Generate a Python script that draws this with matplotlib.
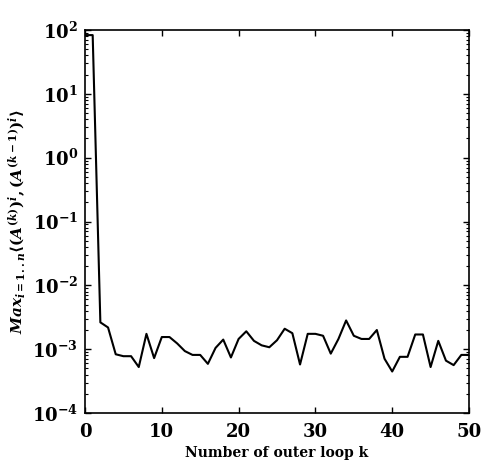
import numpy as np
import matplotlib
matplotlib.use("Agg")
import matplotlib.pyplot as plt
from matplotlib.ticker import FixedLocator, NullFormatter, LogFormatterSciNotation

plt.rcParams.update({
    "font.family": "DejaVu Serif",
    "font.weight": "bold",
    "mathtext.fontset": "custom",
    "mathtext.rm": "DejaVu Serif:bold",
    "mathtext.it": "DejaVu Serif:italic:bold",
    "mathtext.bf": "DejaVu Serif:bold",
})

k = list(range(0, 51))
log_values = [1.92, 1.92, -2.58, -2.66, -3.08, -3.11, -3.11, -3.28, -2.76, -3.14,
              -2.81, -2.81, -2.91, -3.03, -3.09, -3.09, -3.23, -2.98, -2.85, -3.13,
              -2.84, -2.72, -2.87, -2.94, -2.97, -2.86, -2.68, -2.75, -3.24, -2.76,
              -2.76, -2.79, -3.07, -2.84, -2.55, -2.79, -2.84, -2.84, -2.70, -3.15,
              -3.35, -3.12, -3.12, -2.77, -2.77, -3.28, -2.87, -3.18, -3.25, -3.09,
              -3.09]
values = [10 ** v for v in log_values]
x_ticks = [0, 10, 20, 30, 40, 50]
y_exponents = [-4, -3, -2, -1, 0, 1, 2]

y_major = [10.0 ** e for e in y_exponents]
y_minor = [m * 10.0 ** e for e in y_exponents[:-1] for m in range(2, 10)]

fig = plt.figure(figsize=(4.84, 4.68), dpi=100)
ax = fig.add_axes([85 / 484, 1 - 413 / 468, 384 / 484, 383 / 468])
ax.plot(k, values, color="black", linewidth=1.5)
ax.set_yscale("log")
ax.set_xlim(0, 50)
ax.set_ylim(1e-4, 1e2)
ax.xaxis.set_major_locator(FixedLocator(x_ticks))
ax.yaxis.set_major_locator(FixedLocator(y_major))
ax.yaxis.set_major_formatter(LogFormatterSciNotation())
ax.yaxis.set_minor_locator(FixedLocator(y_minor))
ax.yaxis.set_minor_formatter(NullFormatter())
ax.tick_params(which="both", direction="in", top=True, right=True)
ax.tick_params(which="major", length=4, width=1, labelsize=13)
ax.tick_params(axis="x", which="major", pad=7)
ax.tick_params(axis="y", which="major", pad=5)
ax.tick_params(which="minor", length=2, width=0.8)
for s in ax.spines.values():
    s.set_linewidth(1.2)
ax.set_xlabel("Number of outer loop k", fontsize=10, fontweight="bold", labelpad=4)
ax.set_ylabel(r"$Max_{i=1..n}\langle(A^{(k)})^i,(A^{(k-1)})^i\rangle$", fontsize=11, labelpad=3)
fig.savefig("out.png", dpi=100)
